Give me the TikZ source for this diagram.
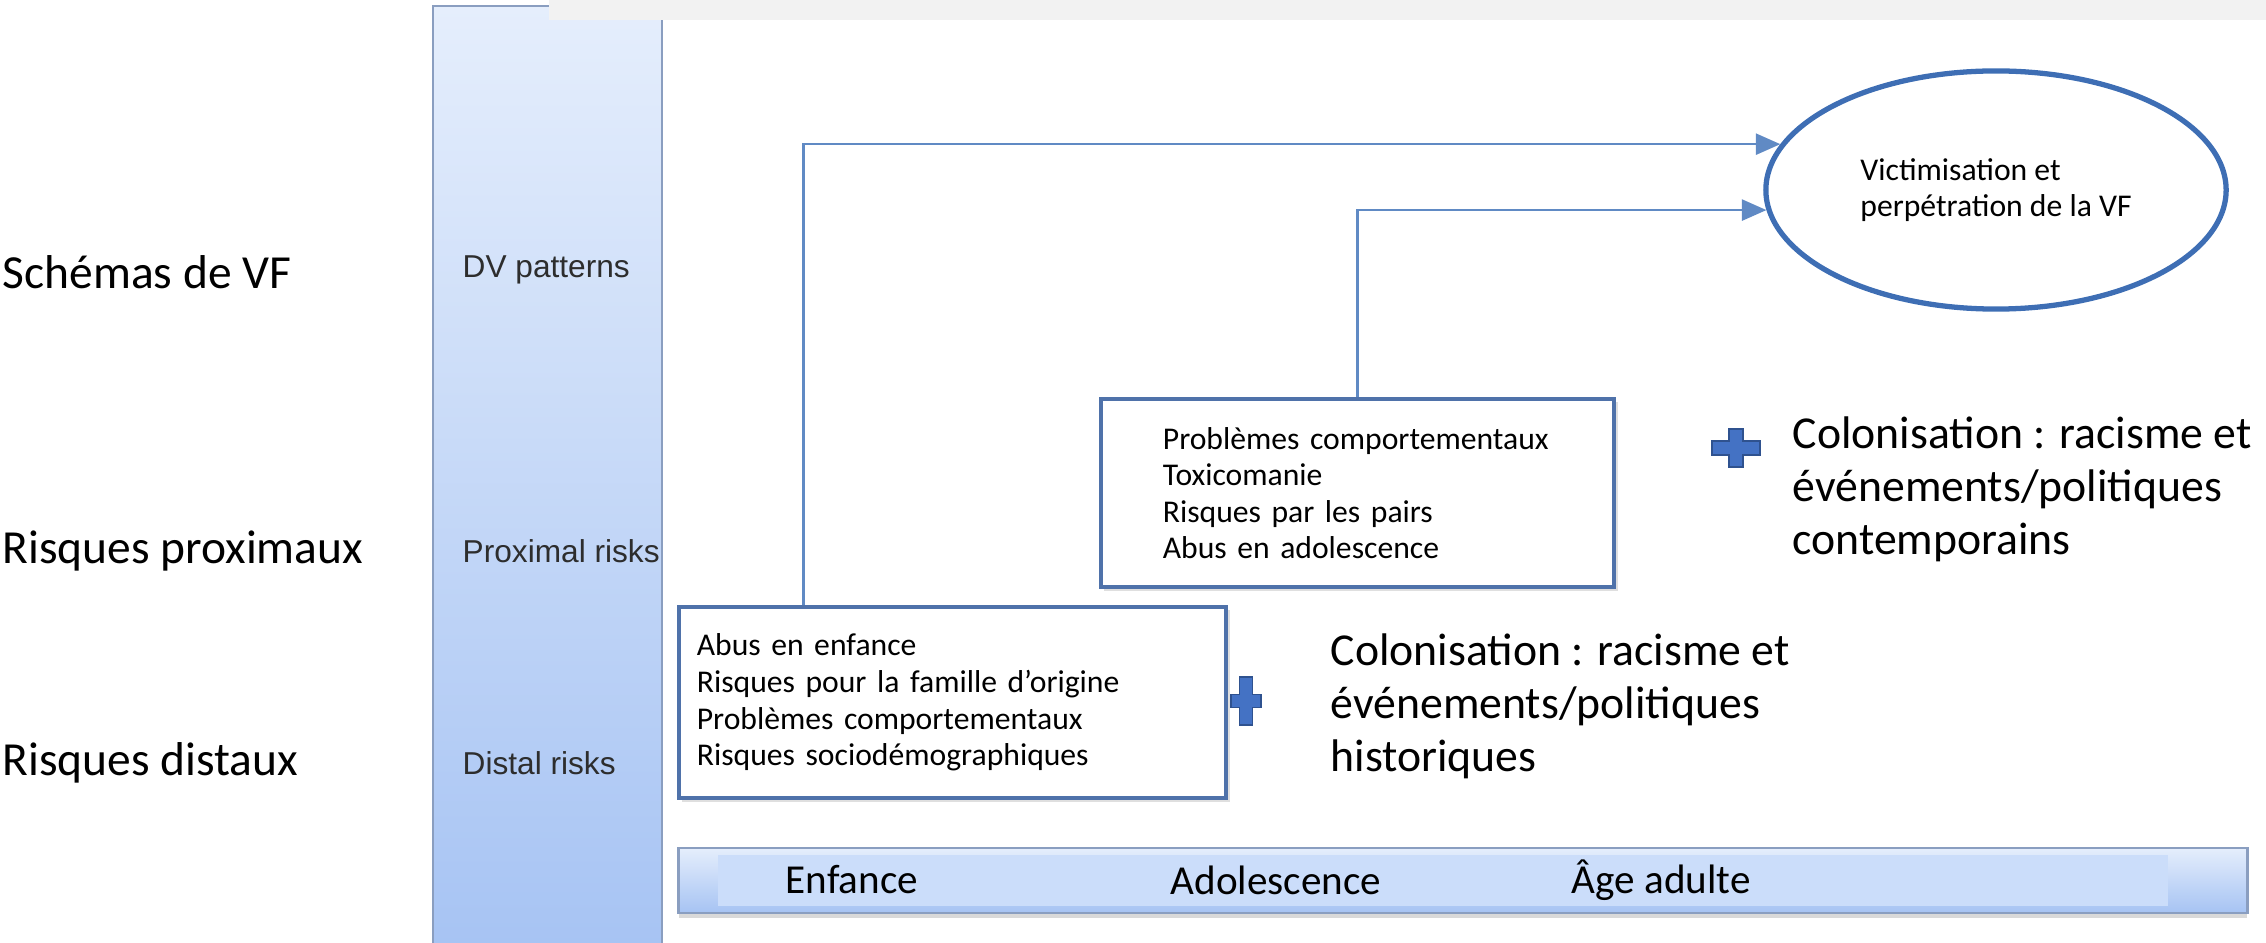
\documentclass[tikz,border=0pt]{standalone}
\usepackage{fontspec}
\setmainfont{Carlito}
\newfontfamily\helv{Liberation Sans}
\usetikzlibrary{arrows.meta, positioning, calc, shapes.geometric, shadows}
\definecolor{topGray}{RGB}{242,242,242}
\definecolor{boxBlue}{RGB}{79,114,170}
\definecolor{linkBlue}{RGB}{96,138,196}
\definecolor{ellBlue}{RGB}{62,110,180}
\definecolor{plusFill}{RGB}{68,114,196}
\definecolor{plusEdge}{RGB}{47,82,143}
\definecolor{barTop}{RGB}{229,238,252}
\definecolor{barBot}{RGB}{166,195,243}
\definecolor{barEdge}{RGB}{138,158,192}
\definecolor{stageFill}{RGB}{203,221,250}
\definecolor{axisText}{RGB}{45,45,45}

\tikzset{
  pics/plusmark/.style n args={3}{code={
    \filldraw[fill=plusFill, draw=plusEdge, line width=.5pt]
      (-#1,-#3) -- (-#3,-#3) -- (-#3,-#2) -- (#3,-#2) -- (#3,-#3) -- (#1,-#3)
      -- (#1,#3) -- (#3,#3) -- (#3,#2) -- (-#3,#2) -- (-#3,#3) -- (-#1,#3) -- cycle;
  }}
}

\begin{document}
\begin{tikzpicture}[x=0.01cm, y=-0.01cm, >={Triangle[length=7pt, width=6pt]},
    rowlabel/.style={anchor=west, inner sep=0pt, font=\fontsize{13.5}{16}\selectfont},
    axislabel/.style={anchor=west, inner sep=0pt, text=axisText, font=\helv\fontsize{9}{11}\selectfont},
    riskbox/.style={draw=boxBlue, line width=1.3pt, fill=white, align=left,
      font=\fontsize{9}{10.4}\selectfont,
      drop shadow={opacity=.25, shadow xshift=1pt, shadow yshift=-1pt}},
    ctx/.style={anchor=west, inner sep=0pt, align=left, font=\fontsize{13}{15.1}\selectfont},
    stage/.style={anchor=west, inner sep=0pt, font=\fontsize{11.7}{14}\selectfont},
    link/.style={->, draw=linkBlue, line width=.7pt}]
  \useasboundingbox (0,0) rectangle (2266,943);

  % time axis on the left, top band over it
  \draw[barEdge, line width=.8pt, top color=barTop, bottom color=barBot] (433,6) rectangle (662,960);
  \fill[topGray] (549,0) rectangle (2266,20);

  \node[axislabel] (dv) at (462,270) {DV patterns};
  \node[axislabel] (prox) at (462,551) {Proximal risks};
  \node[axislabel] (dist) at (462,763) {Distal risks};

  \node[rowlabel] (schemas) at (2,272) {Schémas de VF};
  \node[rowlabel] (rprox) at (2,551) {Risques proximaux};
  \node[rowlabel] (rdist) at (2,763) {Risques distaux};

  % outcome
  \node[ellipse, draw=ellBlue, line width=1.5pt, minimum width=4.6cm, minimum height=2.38cm,
    align=left, font=\fontsize{9}{10.4}\selectfont] (vict) at (1996,190)
    {Victimisation et\\perpétration de la VF};

  % risk boxes
  \node[riskbox, text width=5.11cm, inner xsep=.18cm, minimum height=1.91cm] (box1) at (952.5,702.5)
    {Abus en enfance\\Risques pour la famille d’origine\\Problèmes comportementaux\\Risques sociodémographiques};
  \node[riskbox, text width=3.89cm, inner xsep=.62cm, minimum height=1.88cm] (box2) at (1357.5,493)
    {Problèmes comportementaux\\Toxicomanie\\Risques par les pairs\\Abus en adolescence};

  \draw[link] ($(box1.north west)!0.23!(box1.north east)$) |- (vict.168);
  \draw[link] (box2.north) |- (vict.-175);

  % context
  \pic at (1246,701) {plusmark={15}{24}{6.5}};
  \pic at (1736,448) {plusmark={24}{19}{7}};
  \node[ctx] (ctx1) at (1330,706) {Colonisation : racisme et\\événements/politiques\\historiques};
  \node[ctx] (ctx2) at (1792,489) {Colonisation : racisme et\\événements/politiques\\contemporains};

  % life stages
  \node[draw=barEdge, line width=.8pt, top color=barTop, bottom color=barBot, minimum width=15.68cm,
    minimum height=.65cm, drop shadow={opacity=.3, shadow xshift=0pt, shadow yshift=-1.5pt}] (stages) at (1463,880.5) {};
  \fill[stageFill] (718,855) rectangle (2168,906);
  \node[stage] (enf) at (785,880) {Enfance};
  \node[stage] (ado) at (1170,880) {Adolescence};
  \node[stage] (adu) at (1571,880) {Âge adulte};
\end{tikzpicture}
\end{document}
